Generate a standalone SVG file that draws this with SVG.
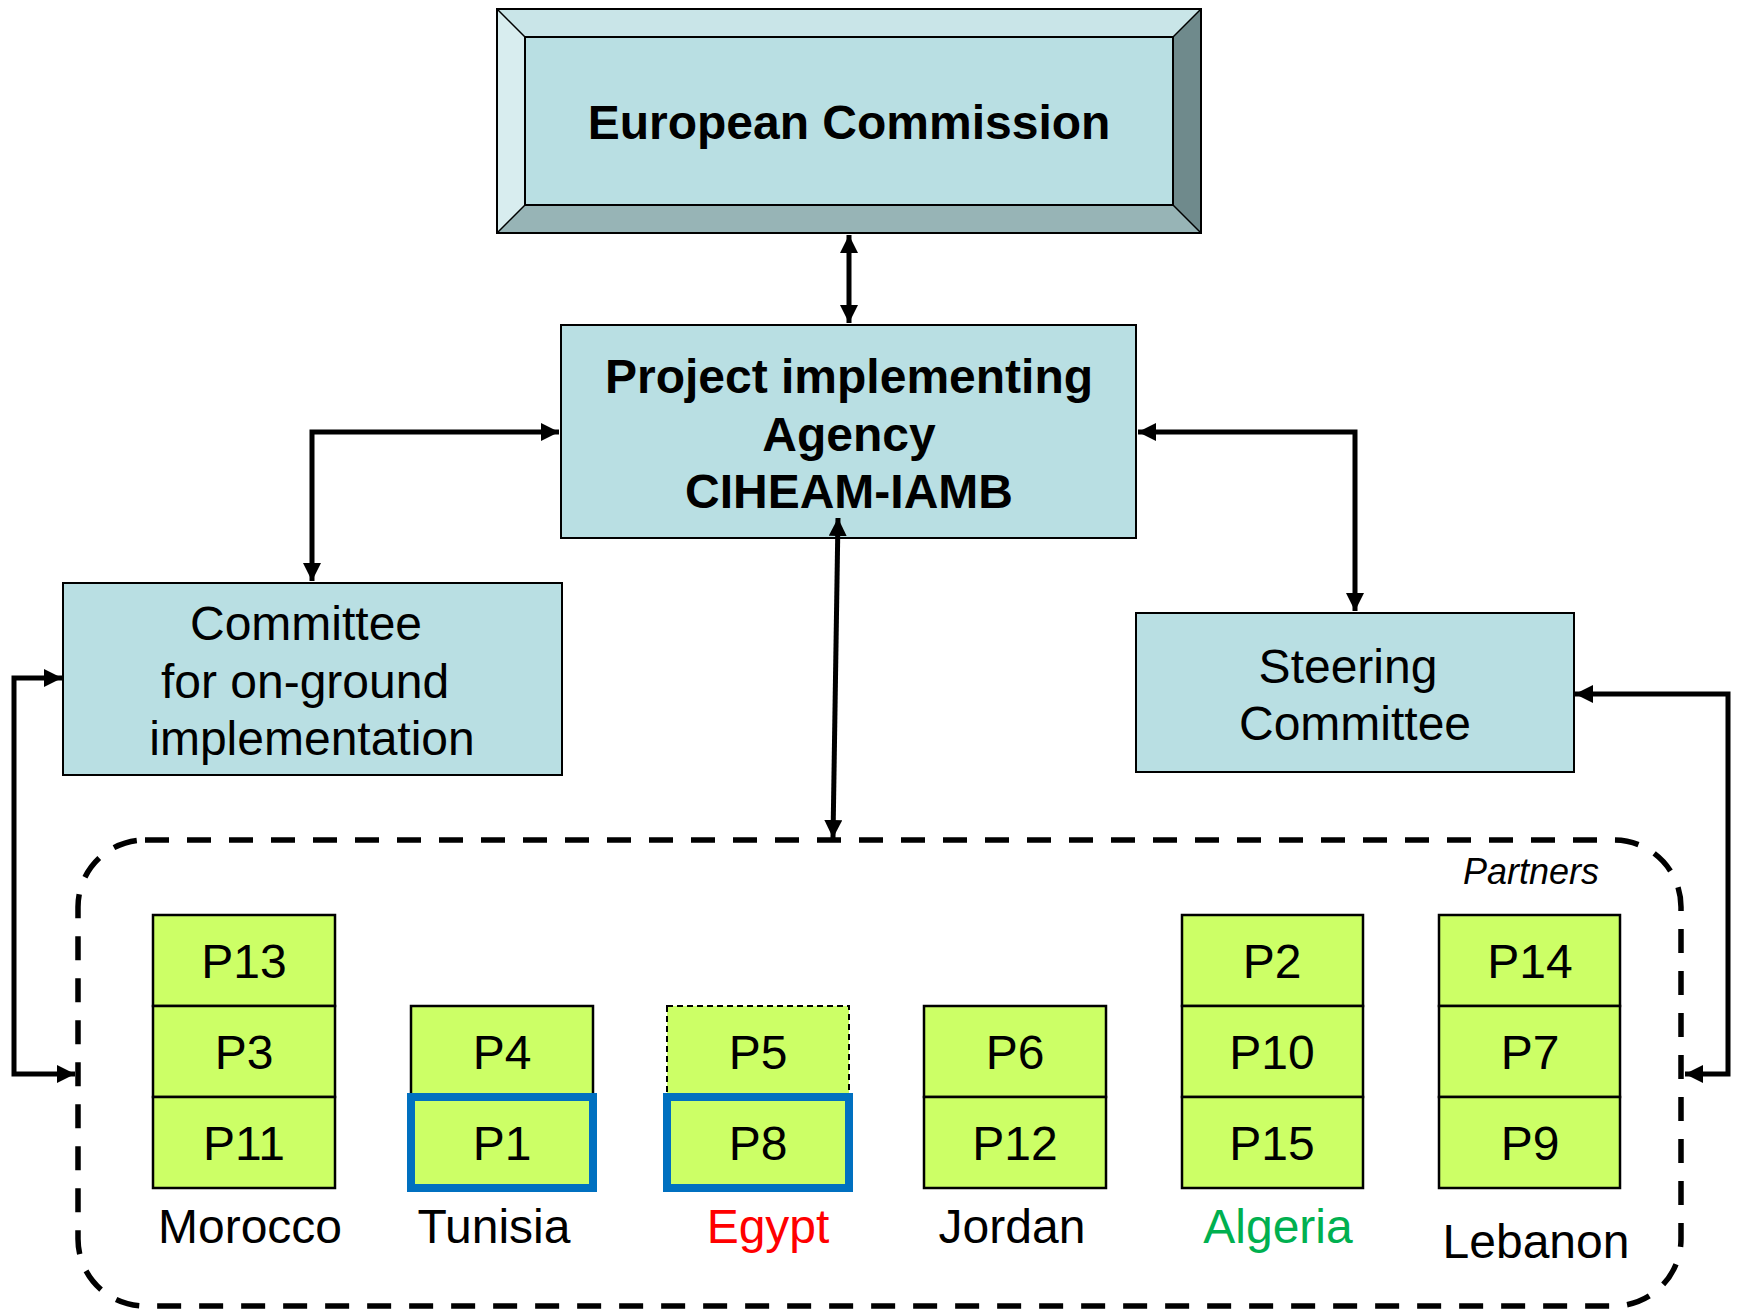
<svg xmlns="http://www.w3.org/2000/svg" width="1740" height="1313" viewBox="0 0 1740 1313">
<style>
.box{fill:#B9DFE3;stroke:#000;stroke-width:2}
.p{fill:#CCFF66;stroke:#000;stroke-width:2.5}
.hl{fill:none;stroke:#0070C0;stroke-width:8}
.t{font-family:"Liberation Sans",Arial,sans-serif;font-size:48px;text-anchor:middle;fill:#000}
.b{font-weight:bold}
.c{fill:none;stroke:#000;stroke-width:5}
</style>
<defs>
<marker id="ah" markerUnits="userSpaceOnUse" markerWidth="20" markerHeight="18" refX="18" refY="9" orient="auto-start-reverse">
<path d="M0,0 L18,9 L0,18 z" fill="#000"/>
</marker>
</defs>
<rect width="1740" height="1313" fill="#fff"/>

<g id="european-commission">
<polygon points="497,9 1201,9 1173,37 525,37" fill="#C9E5E8"/>
<polygon points="497,9 525,37 525,205 497,233" fill="#D8EDEF"/>
<polygon points="1201,9 1201,233 1173,205 1173,37" fill="#6F8A8C"/>
<polygon points="497,233 1201,233 1173,205 525,205" fill="#97B4B6"/>
<rect x="525" y="37" width="648" height="168" fill="#B9DFE3" stroke="#000" stroke-width="2"/>
<rect x="497" y="9" width="704" height="224" fill="none" stroke="#000" stroke-width="2"/>
<path d="M497,9 L525,37 M1201,9 L1173,37 M497,233 L525,205 M1201,233 L1173,205" stroke="#000" stroke-width="1.5"/>
<text class="t b" x="849" y="139">European Commission</text>
</g>

<g id="pia">
<rect class="box" x="561" y="325" width="575" height="213"/>
<text class="t b" x="849" y="393">Project implementing</text>
<text class="t b" x="849" y="451">Agency</text>
<text class="t b" x="849" y="508">CIHEAM-IAMB</text>
</g>

<g id="committee-ground">
<rect class="box" x="63" y="583" width="499" height="192"/>
<text class="t" x="306" y="640">Committee</text>
<text class="t" x="305" y="698">for on-ground</text>
<text class="t" x="312" y="755">implementation</text>
</g>

<g id="steering">
<rect class="box" x="1136" y="613" width="438" height="159"/>
<text class="t" x="1348" y="683">Steering</text>
<text class="t" x="1355" y="740">Committee</text>
</g>

<g id="partners">
<rect x="78" y="840" width="1603" height="466" rx="67" ry="67" fill="none" stroke="#000" stroke-width="5.5" stroke-dasharray="24 18"/>
<text x="1531" y="884" style="font-family:'Liberation Sans',Arial,sans-serif;font-size:36px;font-style:italic;text-anchor:middle">Partners</text>
</g>

<g id="morocco">
<rect class="p" x="153" y="915" width="182" height="91"/>
<rect class="p" x="153" y="1006" width="182" height="91"/>
<rect class="p" x="153" y="1097" width="182" height="91"/>
<text class="t" x="244" y="978">P13</text>
<text class="t" x="244" y="1069">P3</text>
<text class="t" x="244" y="1160">P11</text>
<text class="t" x="250" y="1243">Morocco</text>
</g>

<g id="tunisia">
<rect class="p" x="411" y="1006" width="182" height="91"/>
<rect class="p" x="411" y="1097" width="182" height="91"/>
<rect class="hl" x="411" y="1097" width="182" height="91"/>
<text class="t" x="502" y="1069">P4</text>
<text class="t" x="502" y="1160">P1</text>
<text class="t" x="494" y="1243">Tunisia</text>
</g>

<g id="egypt">
<rect x="667" y="1006" width="182" height="91" fill="#CCFF66" stroke="#000" stroke-width="2" stroke-dasharray="6 4"/>
<rect class="p" x="667" y="1097" width="182" height="91"/>
<rect class="hl" x="667" y="1097" width="182" height="91"/>
<text class="t" x="758" y="1069">P5</text>
<text class="t" x="758" y="1160">P8</text>
<text class="t" x="768" y="1243" style="fill:#FF0000">Egypt</text>
</g>

<g id="jordan">
<rect class="p" x="924" y="1006" width="182" height="91"/>
<rect class="p" x="924" y="1097" width="182" height="91"/>
<text class="t" x="1015" y="1069">P6</text>
<text class="t" x="1015" y="1160">P12</text>
<text class="t" x="1012" y="1243">Jordan</text>
</g>

<g id="algeria">
<rect class="p" x="1182" y="915" width="181" height="91"/>
<rect class="p" x="1182" y="1006" width="181" height="91"/>
<rect class="p" x="1182" y="1097" width="181" height="91"/>
<text class="t" x="1272" y="978">P2</text>
<text class="t" x="1272" y="1069">P10</text>
<text class="t" x="1272" y="1160">P15</text>
<text class="t" x="1278" y="1243" style="fill:#00B050">Algeria</text>
</g>

<g id="lebanon">
<rect class="p" x="1439" y="915" width="181" height="91"/>
<rect class="p" x="1439" y="1006" width="181" height="91"/>
<rect class="p" x="1439" y="1097" width="181" height="91"/>
<text class="t" x="1530" y="978">P14</text>
<text class="t" x="1530" y="1069">P7</text>
<text class="t" x="1530" y="1160">P9</text>
<text class="t" x="1536" y="1258">Lebanon</text>
</g>

<g id="connectors">
<path class="c" d="M849,235 L849,323" marker-start="url(#ah)" marker-end="url(#ah)"/>
<path class="c" d="M559,432 L312,432 L312,581" marker-start="url(#ah)" marker-end="url(#ah)"/>
<path class="c" d="M1138,432 L1355,432 L1355,611" marker-start="url(#ah)" marker-end="url(#ah)"/>
<path class="c" d="M838,518 L833,838" marker-start="url(#ah)" marker-end="url(#ah)"/>
<path class="c" d="M62,678 L14,678 L14,1074 L75,1074" marker-start="url(#ah)" marker-end="url(#ah)"/>
<path class="c" d="M1575,694 L1728,694 L1728,1074 L1685,1074" marker-start="url(#ah)" marker-end="url(#ah)"/>
</g>
</svg>
